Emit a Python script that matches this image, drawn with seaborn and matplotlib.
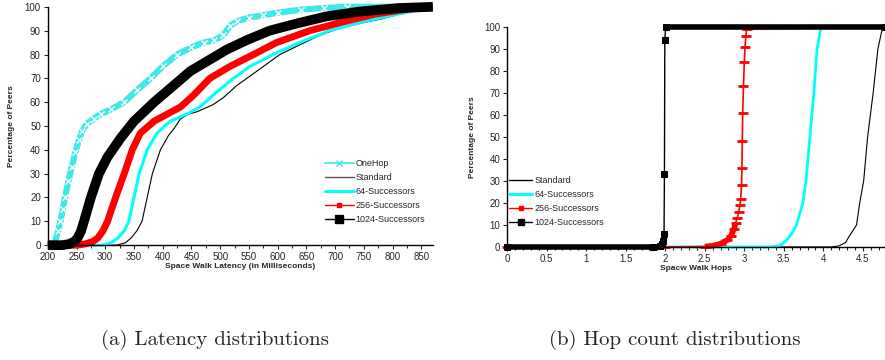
import matplotlib
matplotlib.use('Agg')
import matplotlib.pyplot as plt
from matplotlib.lines import Line2D
from matplotlib.ticker import MultipleLocator
import seaborn as sns
import numpy as np

sns.set_style('ticks')
plt.rcParams['font.family'] = ['Liberation Sans', 'DejaVu Sans']

# (a) latency CDFs, x in ms, y in % of peers
onehop_x = [200, 212, 218, 222, 226, 230, 236, 242, 248, 254, 260, 268, 280, 292, 310, 333, 355, 379, 400,
            425, 450, 471, 490, 505, 517, 530, 550, 575, 600, 640, 680, 720, 870]
onehop_y = [0, 1, 6, 10, 15, 20, 27, 33, 39, 44, 48, 51, 53, 55, 57, 60, 65, 70, 75,
            80, 83, 85, 86, 88, 92, 94, 95.5, 96.5, 97.5, 98.8, 99.5, 100, 100]
std_x = [200, 320, 335, 345, 355, 364, 373, 382, 396, 410, 420, 431, 445, 460, 488, 506, 529, 558, 581,
         604, 638, 673, 707, 742, 782, 811, 857, 870]
std_y = [0, 0, 1, 3, 6, 10, 20, 30, 40, 46, 49, 53, 55, 56, 59, 62, 67, 72, 76,
         80, 84, 88, 91, 93, 95, 97, 99, 100]
s64_x = [200, 295, 310, 322, 333, 341, 350, 359, 373, 390, 413, 442, 465, 488, 523, 552, 592, 638, 690,
         753, 811, 860, 870]
s64_y = [0, 0, 1, 3, 6, 10, 20, 30, 40, 47, 52, 55, 58, 63, 70, 75, 80, 85, 90, 94, 97, 99.5, 100]
s256_x = [200, 250, 265, 278, 287, 296, 304, 318, 333, 347, 361, 385, 408, 431, 454, 482, 517, 558, 598,
          656, 719, 771, 840, 870]
s256_y = [0, 0, 0.5, 1.5, 3, 6, 10, 20, 30, 40, 47, 52, 55, 58, 63, 70, 75, 80, 85, 90, 94, 97, 99.5, 100]
s1024_x = [200, 225, 238, 246, 252, 258, 263, 275, 289, 304, 327, 350, 385, 419, 448, 483, 511, 546, 586,
           633, 685, 742, 811, 870]
s1024_y = [0, 0, 0.5, 1.5, 3, 6, 10, 20, 30, 37, 45, 52, 60, 67, 73, 78, 82, 86, 90, 93, 96, 98, 99.5, 100]

# (b) hop count CDFs
hop_std_x = [0, 4.1, 4.2, 4.28, 4.33, 4.42, 4.46, 4.51, 4.56, 4.63, 4.69, 4.75, 4.78]
hop_std_y = [0, 0, 0.5, 2, 5, 10, 20, 30, 50, 70, 90, 100, 100]
hop_64_x = [0, 3.3, 3.4, 3.47, 3.53, 3.6, 3.66, 3.74, 3.78, 3.83, 3.88, 3.92, 3.97, 4.78]
hop_64_y = [0, 0, 0.3, 1, 3, 6, 10, 20, 30, 50, 70, 90, 100, 100]
hop_256_x = [0, 2.0, 2.5, 2.6, 2.7, 2.78, 2.83, 2.87, 2.89, 2.91, 2.93, 2.945, 2.955, 2.965, 2.97, 2.975,
             2.98, 2.99, 3.0, 3.01, 3.02, 3.03, 4.78]
hop_256_y = [0, 0, 0.2, 0.5, 1.5, 3, 5, 8, 11, 13, 16, 19, 22, 28, 36, 48, 61, 73, 84, 91, 96, 99, 100]
hop_1024_x = [0, 1.85, 1.93, 1.965, 1.976, 1.985, 1.99, 1.995, 2.005, 4.78]
hop_1024_y = [0, 0, 0.5, 1.5, 2.5, 6, 33, 94, 100, 100]

CYAN = '#00FFFF'
ONEHOP = '#40E8E8'
RED = '#FF0000'
butt = dict(solid_capstyle='butt', solid_joinstyle='round', clip_on=False)

fig = plt.figure(figsize=(8.85, 3.6), dpi=100)
ax1 = fig.add_axes([0.054, 0.319, 0.435, 0.662])
ax2 = fig.add_axes([0.573, 0.314, 0.427, 0.611])

# left panel
sns.lineplot(x=onehop_x, y=onehop_y, ax=ax1, color=ONEHOP, lw=4.5, marker='x', ms=4, mew=1, **butt)
sns.lineplot(x=std_x, y=std_y, ax=ax1, color='black', lw=0.8, **butt)
sns.lineplot(x=s64_x, y=s64_y, ax=ax1, color=CYAN, lw=2.2, **butt)
sns.lineplot(x=s256_x, y=s256_y, ax=ax1, color=RED, lw=5, **butt)
sns.lineplot(x=s1024_x, y=s1024_y, ax=ax1, color='black', lw=7, **butt)

ax1.set_xlim(200, 870)
ax1.set_ylim(0, 100)
ax1.xaxis.set_major_locator(MultipleLocator(50))
ax1.xaxis.set_minor_locator(MultipleLocator(25))
ax1.yaxis.set_major_locator(MultipleLocator(10))
ax1.set_xlabel('Space Walk Latency (in Milliseconds)', fontsize=6, fontweight='bold', labelpad=1)
ax1.set_ylabel('Percentage of Peers', fontsize=6, fontweight='bold', labelpad=7)

h1 = [
    Line2D([], [], color=ONEHOP, lw=1.2, marker='x', ms=5),
    Line2D([], [], color='#555555', lw=1),
    Line2D([], [], color=CYAN, lw=2.2),
    Line2D([], [], color=RED, lw=1, marker='s', ms=3),
    Line2D([], [], color='black', lw=1, marker='s', ms=6),
]
ax1.legend(h1, ['OneHop', 'Standard', '64-Successors', '256-Successors', '1024-Successors'],
           loc='upper left', bbox_to_anchor=(0.367, 0.558), bbox_transform=fig.transFigure,
           frameon=False, fontsize=6.5, handlelength=3.2, handletextpad=0.2, labelspacing=0.55,
           borderpad=0, borderaxespad=0)

# right panel
sns.lineplot(x=hop_std_x, y=hop_std_y, ax=ax2, color='black', lw=0.8, **butt)
sns.lineplot(x=hop_64_x, y=hop_64_y, ax=ax2, color=CYAN, lw=2, **butt)
sns.lineplot(x=hop_256_x, y=hop_256_y, ax=ax2, color=RED, lw=1.2, marker='_', ms=7, mew=2,
             mec=RED, **butt)
low = [(x, y) for x, y in zip(hop_256_x, hop_256_y) if 2.4 < x < 2.9]
sns.lineplot(x=[p[0] for p in low], y=[p[1] for p in low], ax=ax2, color=RED, lw=4, **butt)

sns.lineplot(x=hop_1024_x, y=hop_1024_y, ax=ax2, color='black', lw=1, marker='s', ms=4.5,
             mec='black', **butt)
flat0 = [x for x, y in zip(hop_1024_x, hop_1024_y) if y == 0]
flat100 = [x for x, y in zip(hop_1024_x, hop_1024_y) if y == 100]
sns.lineplot(x=flat0, y=[0] * len(flat0), ax=ax2, color='black', lw=4, **butt)
sns.lineplot(x=flat100, y=[100] * len(flat100), ax=ax2, color='black', lw=4, **butt)

ax2.set_xlim(0, 4.78)
ax2.set_ylim(0, 100)
ax2.xaxis.set_minor_locator(MultipleLocator(0.1))
ax2.yaxis.set_major_locator(MultipleLocator(10))
ax2.set_xticks(np.arange(0, 4.6, 0.5))
ax2.set_xticklabels(['0', '0.5', '1', '1.5', '2', '2.5', '3', '3.5', '4', '4.5'])
ax2.set_xlabel('Spacw Walk Hops', fontsize=6, fontweight='bold', labelpad=1)
ax2.set_ylabel('Percentage of Peers', fontsize=6, fontweight='bold', labelpad=6)

h2 = [
    Line2D([], [], color='black', lw=1),
    Line2D([], [], color=CYAN, lw=2.2),
    Line2D([], [], color=RED, lw=1, marker='s', ms=3),
    Line2D([], [], color='black', lw=1, marker='s', ms=4.5),
]
ax2.legend(h2, ['Standard', '64-Successors', '256-Successors', '1024-Successors'],
           loc='upper left', bbox_to_anchor=(0.575, 0.511), bbox_transform=fig.transFigure,
           frameon=False, fontsize=6.5, handlelength=2.6, handletextpad=0.2, labelspacing=0.55,
           borderpad=0, borderaxespad=0)

for ax in (ax1, ax2):
    sns.despine(ax=ax)
    ax.tick_params(axis='both', which='major', labelsize=7, length=3, width=0.8, direction='out', pad=2)
    ax.tick_params(axis='both', which='minor', length=2, width=0.8, direction='out')
    for s in ('left', 'bottom'):
        ax.spines[s].set_linewidth(1)
        ax.spines[s].set_color('black')

fig.text(0.243, 1 - 340 / 360, '(a) Latency distributions', family='cmr10', fontsize=15,
         ha='center', va='center')
fig.text(0.763, 1 - 340 / 360, '(b) Hop count distributions', family='cmr10', fontsize=15,
         ha='center', va='center')

fig.savefig('out.png', dpi=100)
